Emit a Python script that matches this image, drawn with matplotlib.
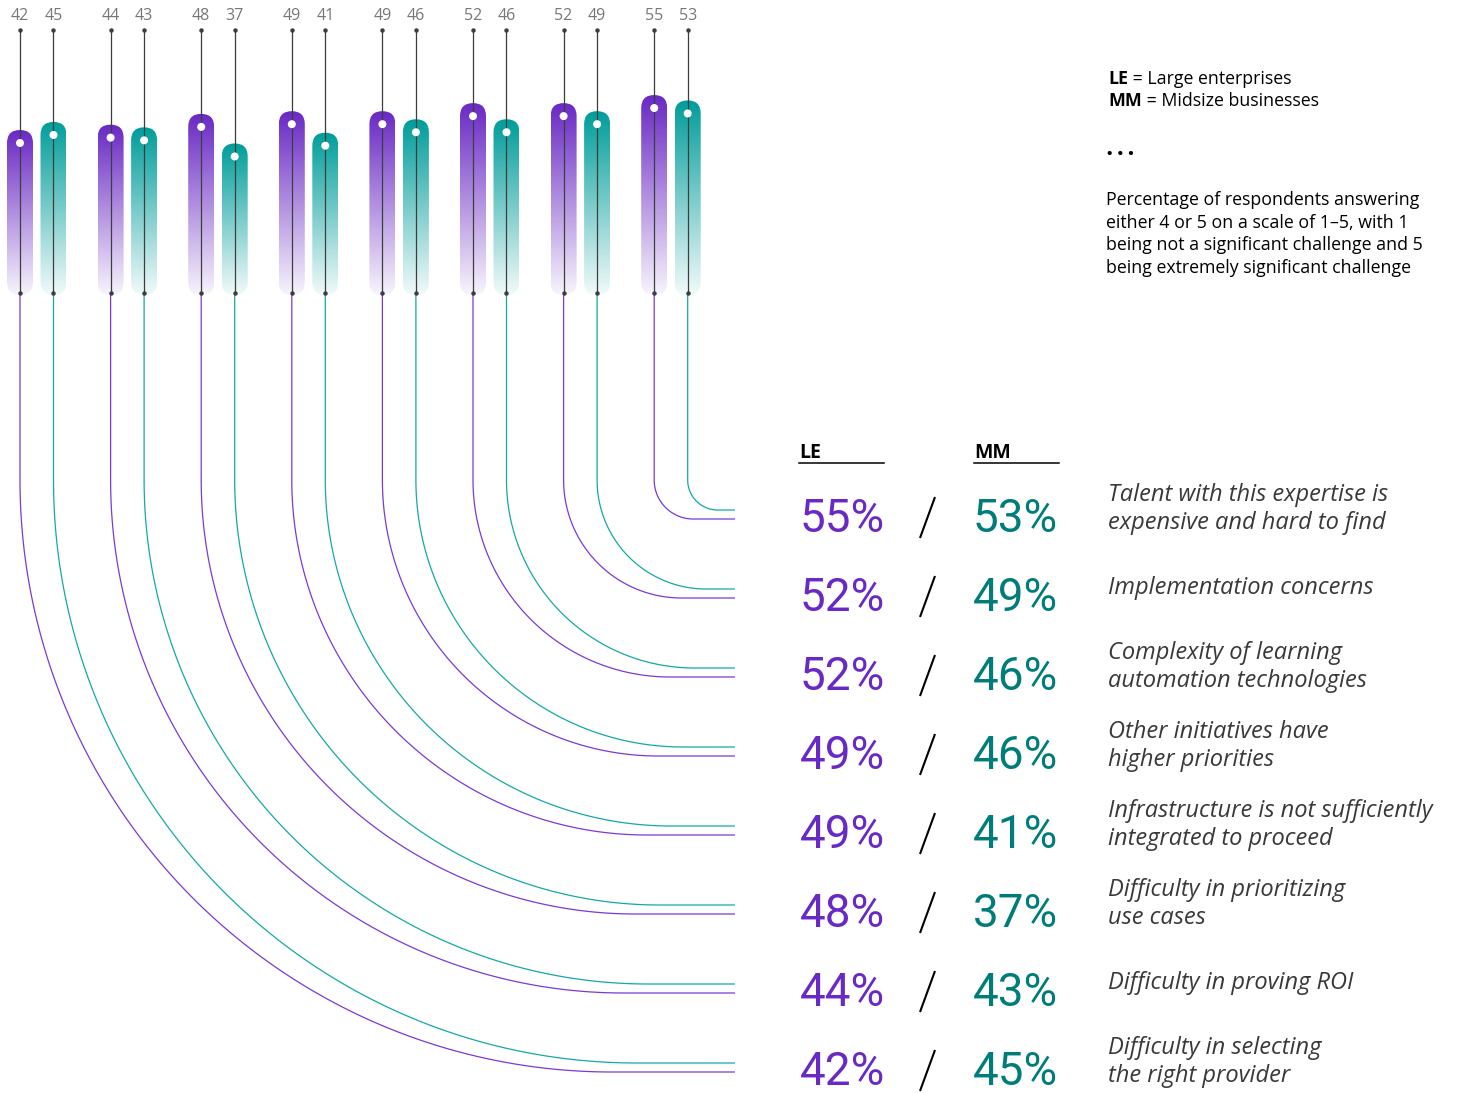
import numpy as np
import matplotlib.pyplot as plt
from matplotlib.patches import FancyBboxPatch, Circle
from matplotlib.colors import to_rgb

# ---------- Data (rows top to bottom) ----------
challenges = [
    "Talent with this expertise is\nexpensive and hard to find",
    "Implementation concerns",
    "Complexity of learning\nautomation technologies",
    "Other initiatives have\nhigher priorities",
    "Infrastructure is not sufficiently\nintegrated to proceed",
    "Difficulty in prioritizing\nuse cases",
    "Difficulty in proving ROI",
    "Difficulty in selecting\nthe right provider",
]
le_pct = [55, 52, 52, 49, 49, 48, 44, 42]
mm_pct = [53, 49, 46, 46, 41, 37, 43, 45]

legend_lines = ["LE", "MM"]
legend_desc = [" = Large enterprises", " = Midsize businesses"]
note = ("Percentage of respondents answering\n"
        "either 4 or 5 on a scale of 1\u20135, with 1\n"
        "being not a significant challenge and 5\n"
        "being extremely significant challenge")

# ---------- Style ----------
PURPLE = "#6929c4"
TEAL = "#009d9a"
TEAL_TXT = "#007d79"
PURPLE_LINE = "#7a3ad6"
TEAL_LINE = "#14a9a4"
STEM = "#3d3d3d"
FONT = "Open Sans"
NUM_FONT = "Roboto"

W, H = 1458, 1093
fig = plt.figure(figsize=(W / 100, H / 100), dpi=100)
ax = fig.add_axes([0, 0, 1, 1])
ax.set_xlim(0, W)
ax.set_ylim(H, 0)
ax.axis("off")

# layout (pixel units, y grows downward)
PAIR_X0, PAIR_STEP, PAIR_GAP = 20, 90.6, 33.5
STEM_TOP, BAR_BOTTOM, BEND_Y = 30, 293, 480
ROW_Y0, ROW_STEP, MM_OFFSET = 519, 79, -9
LINE_END = 735
BAR_W = 26


def val_to_y(v):
    # value scale for the capsules: 1 point = 2.69 px
    return 256 - 2.69 * v


def gradient(color):
    top = np.array(to_rgb(color))
    light = top + (1 - top) * 0.95
    t = np.linspace(0, 1, 256)[:, None]
    rgb = top * (1 - t) + light * t
    return rgb[:, None, :]


def draw_capsule(x, v, color):
    dot_y = val_to_y(v)
    top = dot_y - 13
    patch = FancyBboxPatch((x - BAR_W / 2, top), BAR_W, BAR_BOTTOM + 2 - top,
                           boxstyle=f"round,pad=0,rounding_size={BAR_W / 2}",
                           fc="none", ec="none")
    ax.add_patch(patch)
    im = ax.imshow(gradient(color), extent=(x - BAR_W / 2, x + BAR_W / 2, BAR_BOTTOM + 2, top),
                   origin="upper", aspect="auto", zorder=2, interpolation="bilinear")
    im.set_clip_path(patch)
    # stem
    ax.plot([x, x], [STEM_TOP, BAR_BOTTOM], color=STEM, lw=0.9, zorder=3)
    ax.plot([x, x], [STEM_TOP, BAR_BOTTOM], "o", color=STEM, ms=2.2, zorder=3)
    ax.add_patch(Circle((x, dot_y), 3.3, color="white", zorder=4))
    ax.text(x, 16, str(v), ha="center", va="center", fontsize=11.5,
            color="#777777", family=FONT)


def draw_connector(x, row_y, color):
    r = row_y - BEND_Y
    t = np.linspace(0, np.pi / 2, 120)
    xs = np.concatenate([[x, x], x + r - r * np.cos(t), [LINE_END]])
    ys = np.concatenate([[BAR_BOTTOM, BEND_Y], BEND_Y + r * np.sin(t), [row_y]])
    ax.plot(xs, ys, color=color, lw=0.9, zorder=1, solid_capstyle="butt")


n = len(challenges)
for row in range(n):
    pair = n - 1 - row
    x_le = PAIR_X0 + PAIR_STEP * pair
    x_mm = x_le + PAIR_GAP
    y_le = ROW_Y0 + ROW_STEP * row
    y_mm = y_le + MM_OFFSET

    draw_capsule(x_le, le_pct[row], PURPLE)
    draw_capsule(x_mm, mm_pct[row], TEAL)
    draw_connector(x_le, y_le, PURPLE_LINE)
    draw_connector(x_mm, y_mm, TEAL_LINE)

    base = y_le + 13
    ax.text(800, base, f"{le_pct[row]}%", ha="left", va="baseline", fontsize=33,
            color=PURPLE, family=NUM_FONT)
    # divider between the two percentages
    ax.plot([920, 935], [y_le + 19, y_le - 22], color="black", lw=1.5,
            solid_capstyle="butt")
    ax.text(973, base, f"{mm_pct[row]}%", ha="left", va="baseline", fontsize=33,
            color=TEAL_TXT, family=NUM_FONT)
    ax.text(1108, y_mm - 1, challenges[row], ha="left", va="center", fontsize=17,
            style="italic", color="#393939", family=FONT, linespacing=1.2)

# column headers
for hx, label in [(799, "LE"), (974, "MM")]:
    ax.text(hx, 458, label, ha="left", va="baseline", fontsize=14,
            fontweight="bold", color="black", family=FONT)
    ax.plot([hx, hx + 85], [463, 463], color="black", lw=1.1)

# legend and note
for i, (k, d) in enumerate(zip(legend_lines, legend_desc)):
    yy = 79 + 22 * i
    t = ax.text(1108, yy, k, ha="left", va="center", fontsize=12.8,
                fontweight="bold", color="black", family=FONT)
    ax.annotate(d, xycoords=t, xy=(1, 0.5), va="center", ha="left",
                fontsize=12.8, color="black", family=FONT)
ax.text(1106, 155, "\u2022\u2009\u2022\u2009\u2022", ha="left", va="center",
        fontsize=14, color="black", family=FONT)
ax.text(1106, 234, note, ha="left", va="center", fontsize=12.8,
        color="black", family=FONT, linespacing=1.35)

fig.savefig("out.png", dpi=100, facecolor="white")
